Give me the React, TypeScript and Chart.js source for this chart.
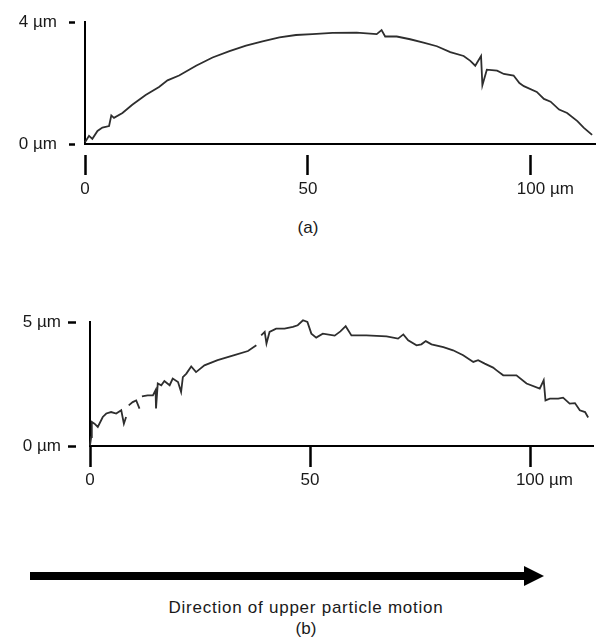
import React, { useEffect, useRef } from 'react';
import { Chart, registerables } from 'chart.js';

Chart.register(...registerables);

const FONT_FAMILY = '"Liberation Sans", Arial, Helvetica, sans-serif';
const FONT_SIZE = 17;
const TEXT_COLOR = '#1a1a1a';
const AXIS_COLOR = '#000000';
const LINE_COLOR = '#2e2e2e';
const UNIT = 'µm';

// ---------- Panel (a) ----------
const A_X = [0, 0.9, 1.65, 2.8, 3.9, 5.4, 5.9, 6.5, 8.4, 10.6, 13.6, 16.6, 18.5, 21.1, 24.9, 28.6, 32.4, 36.1, 39.8, 43.6, 47.3, 51.0, 55.5, 60.9, 65.4, 66.5, 67.3, 69.9, 72.9, 75.9, 78.9, 81.9, 84.9, 86.4, 87.5, 88.8, 89.1, 90.1, 92.4, 93.9, 96.1, 97.4, 98.4, 101.3, 102.9, 104.4, 106.3, 108.1, 110.4, 111.8, 113.7];
const A_Y = [0.06, 0.27, 0.17, 0.43, 0.54, 0.59, 0.94, 0.86, 1.02, 1.29, 1.61, 1.87, 2.09, 2.25, 2.57, 2.84, 3.05, 3.23, 3.37, 3.5, 3.58, 3.61, 3.65, 3.66, 3.61, 3.74, 3.53, 3.53, 3.44, 3.33, 3.21, 3.02, 2.89, 2.73, 2.57, 2.89, 1.93, 2.44, 2.41, 2.3, 2.25, 2.0, 1.9, 1.71, 1.48, 1.39, 1.13, 1.02, 0.75, 0.54, 0.3];
const A_X_TICKS = [0, 50, 100];
const A_Y_TICKS = [0, 4];
const A_X_MAX = 114.35;
const A_Y_MAX = 4;

// ---------- Panel (b) ----------
const B_X = [0, 0.27, 0.41, 1.02, 1.77, 2.9, 3.7, 4.8, 5.95, 7.1, 7.7, 8.2, 8.5, 8.8, 9.7, 10.5, 11.25, 11.5, 11.8, 13.1, 14.3, 14.9, 15.0, 15.4, 16.2, 16.9, 18.1, 18.8, 20.0, 20.7, 21.1, 21.9, 23.0, 24.1, 26.0, 29.0, 32.8, 35.9, 37.8, 38.3, 38.9, 39.7, 40.1, 40.8, 42.3, 44.2, 46.1, 47.2, 48.4, 49.4, 50.3, 51.4, 52.9, 55.6, 56.9, 58.1, 59.4, 62.8, 67.4, 70.0, 71.2, 72.3, 74.2, 75.3, 76.3, 77.6, 80.3, 82.5, 84.8, 87.1, 88.2, 89.7, 91.6, 92.4, 93.9, 96.9, 99.2, 102.2, 103.1, 103.5, 104.5, 106.4, 107.5, 109.0, 110.2, 111.3, 112.5, 113.2];
const B_Y = [0.03, 0.36, 0.97, 0.9, 0.77, 1.17, 1.31, 1.37, 1.31, 1.44, 0.9, 1.17, null, 1.64, 1.77, 1.84, 1.51, null, 2.0, 2.04, 2.04, 2.25, 1.51, 2.52, 2.45, 2.62, 2.45, 2.72, 2.58, 2.18, 2.78, 2.92, 3.21, 2.98, 3.25, 3.46, 3.66, 3.83, 4.06, null, 4.46, 4.6, 4.13, 4.6, 4.73, 4.73, 4.8, 4.87, 5.07, 5.0, 4.53, 4.37, 4.53, 4.45, 4.62, 4.83, 4.46, 4.46, 4.42, 4.33, 4.5, 4.26, 4.06, 4.1, 4.23, 4.1, 3.99, 3.86, 3.66, 3.39, 3.46, 3.32, 3.16, 3.05, 2.85, 2.85, 2.52, 2.31, 2.65, 1.84, 1.91, 1.91, 1.95, 1.71, 1.73, 1.44, 1.37, 1.15];
const B_X_TICKS = [0, 50, 100];
const B_Y_TICKS = [0, 5];
const B_X_MAX = 114.3;
const B_Y_MAX = 5;

type Layout = {
  height: number;
  padTop: number;
  padRight: number;
  yAxisWidth: number;
  xAxisTop: number;
  yTickLen: number;
  yTickDash: number[];
  yLabelPad: number;
  xTickLen: number;
  xTickDash: number[];
  xLabelY: number;
};

const LAYOUT_A: Layout = {
  height: 210, padTop: 18, padRight: 2, yAxisWidth: 85, xAxisTop: 144,
  yTickLen: 16, yTickDash: [6, 100], yLabelPad: 12,
  xTickLen: 31, xTickDash: [0, 10, 21, 100], xLabelY: 45,
};

const LAYOUT_B: Layout = {
  height: 200, padTop: 22, padRight: 4, yAxisWidth: 90, xAxisTop: 146,
  yTickLen: 22, yTickDash: [8, 100], yLabelPad: 7,
  xTickLen: 21, xTickDash: [], xLabelY: 34,
};

function makePanel(
  canvas: HTMLCanvasElement,
  xs: number[],
  ys: (number | null)[],
  xMax: number,
  yMax: number,
  xTicks: number[],
  yTicks: number[],
  L: Layout
) {
  const xLabelPlugin = {
    id: 'xUnitLabels',
    afterDraw(chart: any) {
      const s = chart.scales.x;
      const ctx = chart.ctx;
      ctx.save();
      ctx.font = `${FONT_SIZE}px ${FONT_FAMILY}`;
      ctx.fillStyle = TEXT_COLOR;
      ctx.textAlign = 'left';
      ctx.textBaseline = 'middle';
      const n = s.ticks.length;
      s.ticks.forEach((t: any, i: number) => {
        const px = s.getPixelForValue(t.value);
        const num = String(t.value);
        const w = ctx.measureText(num).width;
        ctx.fillText(i === n - 1 ? `${num} ${UNIT}` : num, px - w / 2, s.top + L.xLabelY);
      });
      ctx.restore();
    },
  };

  return new Chart(canvas, {
    type: 'line',
    data: {
      datasets: [
        {
          data: xs.map((x, i) => ({ x, y: ys[i] })) as any,
          borderColor: LINE_COLOR,
          borderWidth: 1.8,
          pointRadius: 0,
          tension: 0,
          spanGaps: false,
          fill: false,
          clip: 8,
        },
      ],
    },
    options: {
      responsive: false,
      animation: false,
      events: [],
      layout: { autoPadding: false, padding: { top: L.padTop, right: L.padRight, left: 0, bottom: 0 } },
      plugins: { legend: { display: false }, tooltip: { enabled: false }, title: { display: false } },
      scales: {
        x: {
          type: 'linear',
          min: 0,
          max: xMax,
          afterBuildTicks: (s: any) => { s.ticks = xTicks.map((v) => ({ value: v })); },
          afterFit: (s: any) => { s.height = L.height - L.xAxisTop; },
          grid: {
            drawOnChartArea: false,
            drawTicks: true,
            tickLength: L.xTickLen,
            tickWidth: 2.5,
            tickColor: AXIS_COLOR,
            tickBorderDash: L.xTickDash,
          },
          border: { display: true, color: AXIS_COLOR, width: 2 },
          ticks: { display: false },
        },
        y: {
          type: 'linear',
          min: 0,
          max: yMax,
          afterBuildTicks: (s: any) => { s.ticks = yTicks.map((v) => ({ value: v })); },
          afterFit: (s: any) => { s.width = L.yAxisWidth; },
          grid: {
            drawOnChartArea: false,
            drawTicks: true,
            tickLength: L.yTickLen,
            tickWidth: 2.5,
            tickColor: AXIS_COLOR,
            tickBorderDash: L.yTickDash,
          },
          border: { display: true, color: AXIS_COLOR, width: 2 },
          ticks: {
            padding: L.yLabelPad,
            color: TEXT_COLOR,
            font: { family: FONT_FAMILY, size: FONT_SIZE },
            callback: (v: any) => `${v} ${UNIT}`,
          },
        },
      },
    } as any,
    plugins: [xLabelPlugin],
  });
}

export default function App() {
  const refA = useRef<HTMLCanvasElement>(null);
  const refB = useRef<HTMLCanvasElement>(null);

  useEffect(() => {
    const a = makePanel(refA.current!, A_X, A_Y, A_X_MAX, A_Y_MAX, A_X_TICKS, A_Y_TICKS, LAYOUT_A);
    const b = makePanel(refB.current!, B_X, B_Y, B_X_MAX, B_Y_MAX, B_X_TICKS, B_Y_TICKS, LAYOUT_B);
    return () => {
      a.destroy();
      b.destroy();
    };
  }, []);

  const textStyle: React.CSSProperties = {
    position: 'absolute',
    left: 0,
    textAlign: 'center',
    fontSize: FONT_SIZE,
    lineHeight: '20px',
    whiteSpace: 'nowrap',
  };

  return (
    <div
      style={{
        position: 'absolute',
        left: 0,
        top: 0,
        width: 597,
        height: 644,
        background: '#ffffff',
        fontFamily: FONT_FAMILY,
        color: TEXT_COLOR,
        overflow: 'hidden',
      }}
    >
      <canvas
        ref={refA}
        width={597}
        height={LAYOUT_A.height}
        style={{ position: 'absolute', left: 0, top: 0, width: 597, height: LAYOUT_A.height }}
      />
      <div style={{ ...textStyle, width: 616, top: 218 }}>(a)</div>
      <canvas
        ref={refB}
        width={597}
        height={LAYOUT_B.height}
        style={{ position: 'absolute', left: 0, top: 300, width: 597, height: LAYOUT_B.height }}
      />
      <div style={{ position: 'absolute', left: 30, top: 572, width: 496, height: 8, background: '#000' }} />
      <div
        style={{
          position: 'absolute',
          left: 524,
          top: 566,
          width: 0,
          height: 0,
          borderTop: '10px solid transparent',
          borderBottom: '10px solid transparent',
          borderLeft: '20px solid #000',
        }}
      />
      <div style={{ ...textStyle, width: 612, top: 598, letterSpacing: '0.75px' }}>
        Direction of upper particle motion
      </div>
      <div style={{ ...textStyle, width: 612, top: 619 }}>(b)</div>
    </div>
  );
}
